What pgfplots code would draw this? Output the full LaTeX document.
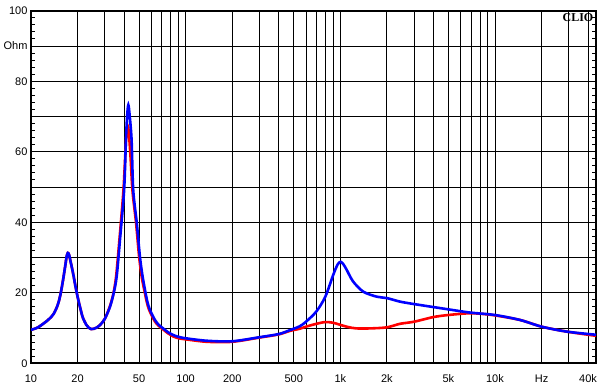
\documentclass[border=0pt]{standalone}
\usepackage{fontspec}
\setmainfont{Liberation Sans}
\newfontfamily\cliofont{Liberation Serif}
\usepackage{pgfplots}
\pgfplotsset{compat=1.18}
\begin{document}
\begin{tikzpicture}
\begin{axis}[
 name=ax,
 at={(0,0)}, anchor=south west,
 scale only axis, width=565pt, height=352.5pt,
 xmode=log, xmin=10, xmax=45000, ymin=0, ymax=100,
 xtick={10,20,50,100,200,500,1000,2000,5000,10000,20000,40000},
 xticklabels={10,20,50,100,200,500,1k,2k,5k,10k,Hz,40k},
 minor xtick={30,40,60,70,80,90,300,400,600,700,800,900,3000,4000,6000,7000,8000,9000,30000},
 ytick={0,10,...,100},
 yticklabels={0,,20,,40,,60,,80,Ohm,100},
 minor y tick num=4,
 xmajorgrids=true, xminorgrids=true, ymajorgrids=true,
 major grid style={black, line width=0.9pt},
 minor grid style={black, line width=0.9pt},
 axis line style={line width=2pt},
 tick align=inside,
 major tick length=0pt,
 minor tick length=4pt,
 xtick style={draw=none},
 ytick style={black, line width=1pt},
 ticklabel style={font=\fontsize{11}{13}\selectfont, black},
 xticklabel style={yshift=-8pt},
 clip=true,
]
\addplot[red, line width=2.6pt, smooth, tension=0.5] coordinates {
(10,9.5) (11.1,10.2) (12.9,12.3) (14.0,14.0) (14.9,16.6) (15.5,19.5) (16.1,23.5) (16.7,28.0) (17.0,30.3) (17.3,31.3) (17.6,30.9) (17.9,29.5) (18.7,25.6) (19.4,21.8) (20.1,18.5) (21.0,15.0) (21.7,12.8) (22.8,10.9) (23.6,10.1) (24.5,9.7) (25.5,9.8) (26.5,10.1) (28.0,10.9) (30,12.6) (32.2,15.9) (34,19.5) (35.5,24.6) (37.3,35) (39.6,49) (41.0,62) (41.6,66) (42.1,67.5) (42.8,66) (44.0,58.7) (45.3,49) (47.8,39.8) (50.0,30.3) (52,24.5) (54.0,20.8) (56,17.5) (58.0,15.2) (63,12.0) (67,10.6) (71.5,9.6) (77,8.5) (83.3,7.6) (90,7.1) (100,6.8) (137,6.1) (200,6.1) (300,7.3) (400,8.2) (472,9.2) (546,9.8) (600,10.4) (700,11.2) (800,11.7) (900,11.5) (1000,10.9) (1120,10.3) (1270,9.9) (1560,9.9) (2000,10.2) (2430,11.2) (3000,11.8) (3980,13.1) (5000,13.7) (6900,14.2) (8800,13.9) (10000,13.6) (14500,12.3) (20000,10.4) (29000,9.0) (45000,7.8)
};
\addplot[blue, line width=2.6pt, smooth, tension=0.5] coordinates {
(10,9.5) (11.1,10.2) (12.9,12.3) (14.0,14.0) (14.9,16.6) (15.5,19.5) (16.1,23.5) (16.7,28.0) (17.0,30.3) (17.3,31.3) (17.6,30.9) (17.9,29.5) (18.7,25.6) (19.4,21.8) (20.1,18.5) (21.0,15.0) (21.7,12.8) (22.8,10.9) (23.6,10.1) (24.5,9.7) (25.5,9.8) (26.5,10.1) (28.0,10.9) (30,12.6) (32.4,16.0) (34.2,19.8) (35.8,24.6) (37.6,35) (40,49.2) (41.1,63.4) (41.9,70.5) (42.6,73.3) (43.4,70.5) (44.7,63.4) (45.8,49.2) (48.3,39.8) (50.6,30.3) (52.5,25) (54.6,20.8) (56.5,17.5) (58.8,15.1) (63.3,12.3) (67,10.9) (71.5,9.9) (77,8.8) (83.3,8.0) (90,7.5) (100,7.1) (137,6.4) (200,6.25) (300,7.4) (400,8.3) (472,9.4) (546,10.5) (600,11.8) (700,14.7) (800,18.9) (900,25.1) (960,28.0) (1005,28.8) (1050,28.0) (1100,26.5) (1210,23.2) (1410,20.3) (1720,18.9) (2000,18.5) (2430,17.5) (3000,16.8) (5000,15.3) (6880,14.4) (10000,13.7) (14500,12.3) (20000,10.4) (29000,9.0) (45000,8.1)
};
\end{axis}
\node[anchor=north east, inner sep=0pt, font=\cliofont\bfseries\fontsize{12}{13}\selectfont] at ([shift={(-2.5pt,-2.5pt)}]ax.north east) {CLIO};
\pgfresetboundingbox
\path[use as bounding box] (-31pt,-27.7pt) rectangle (572pt,363.3pt);
\end{tikzpicture}
\end{document}
